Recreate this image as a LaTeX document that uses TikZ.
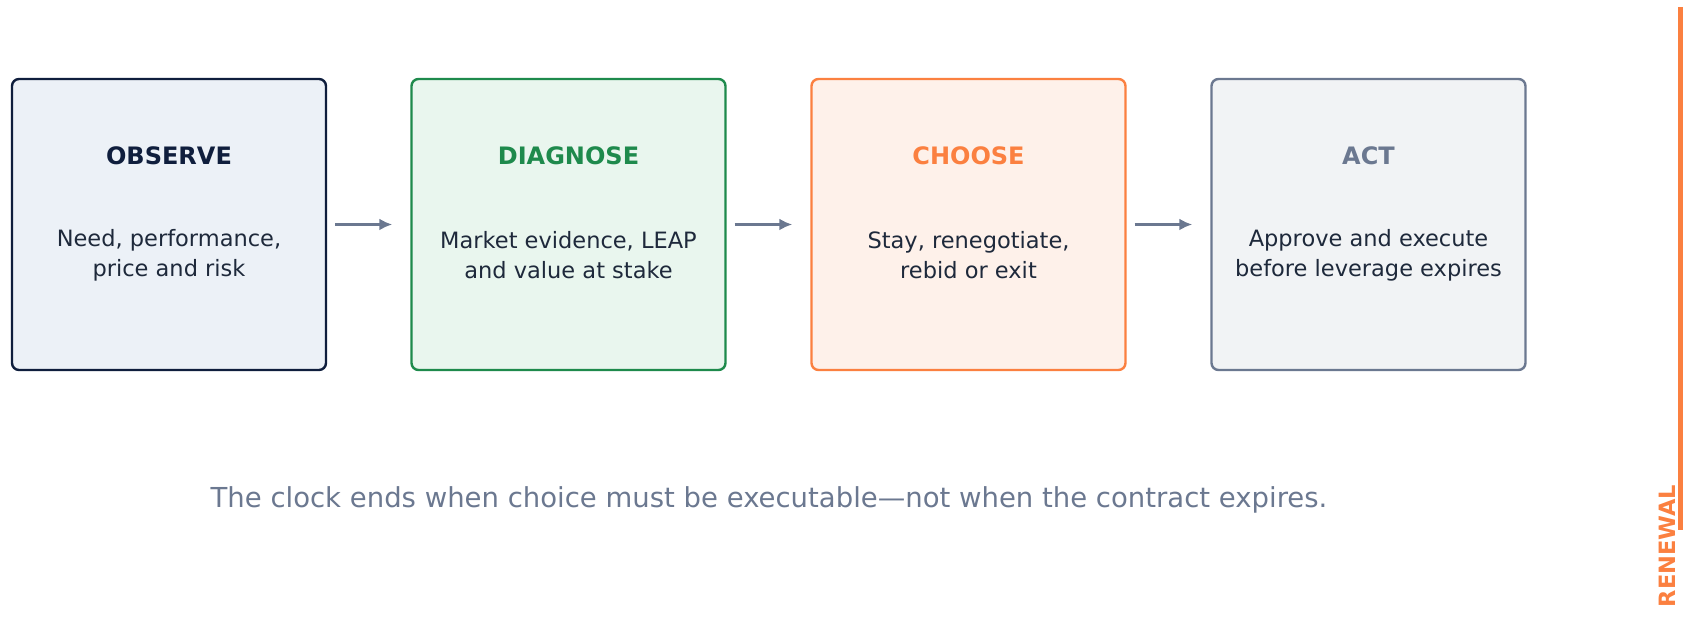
\documentclass[tikz,border=0pt]{standalone}
\usepackage{fontspec}
\setmainfont{DejaVu Sans}
\usetikzlibrary{arrows.meta}
\begin{document}
\begin{tikzpicture}[x=1pt,y=1pt,
 box/.style={draw=#1,line width=2.4pt,rounded corners=7pt,minimum width=314pt,minimum height=291pt,inner sep=0pt},
 ttl/.style={font=\fontsize{24}{28}\selectfont\bfseries},
 body/.style={font=\fontsize{22.5}{30}\selectfont,text=txt,align=center},
 arr/.style={-{Latex[length=13pt,width=12pt]},line width=2.6pt,draw=arrc}]
\definecolor{txt}{HTML}{1E293B}
\definecolor{c1}{HTML}{0F1E3D}\definecolor{f1}{HTML}{ECF1F7}
\definecolor{c2}{HTML}{1E8A4C}\definecolor{f2}{HTML}{E9F6EE}
\definecolor{c3}{HTML}{FB8040}\definecolor{f3}{HTML}{FEF1EA}
\definecolor{c4}{HTML}{6B7890}\definecolor{f4}{HTML}{F1F3F5}
\definecolor{arrc}{HTML}{6B7890}
\path[use as bounding box] (0,0) rectangle (1687,617);
\foreach \i/\x/\t/\b in {1/169/OBSERVE/{Need, performance,\\price and risk},2/568.5/DIAGNOSE/{Market evidence, LEAP\\and value at stake},3/968.5/CHOOSE/{Stay, renegotiate,\\rebid or exit},4/1368.5/ACT/{Approve and execute\\before leverage expires}}{
 \node[box=c\i,fill=f\i] (b\i) at (\x,392.5) {};
 \node[ttl,text=c\i] (t\i) at (\x,461) {\t};
 \node[body] (d\i) at (\x,362) {\b};
}
\foreach \a/\b in {1/2,2/3,3/4}{
 \coordinate (s\a) at ([xshift=8pt]b\a.east);
 \coordinate (e\a) at ([xshift=-18pt]b\b.west);
 \draw[arr] (s\a) -- (e\a);
}
\node[font=\fontsize{27.5}{32}\selectfont,text=arrc] (cap) at (769,117) {The clock ends when choice must be executable—not when the contract expires.};
\coordinate (r1) at (1680,610); \coordinate (r2) at (1680,87);
\draw[c3,line width=5pt] (r1) -- (r2);
\node[rotate=90,font=\fontsize{22.5}{26}\selectfont\bfseries,text=c3] (rn) at (1667,71) {RENEWAL};
\end{tikzpicture}
\end{document}
